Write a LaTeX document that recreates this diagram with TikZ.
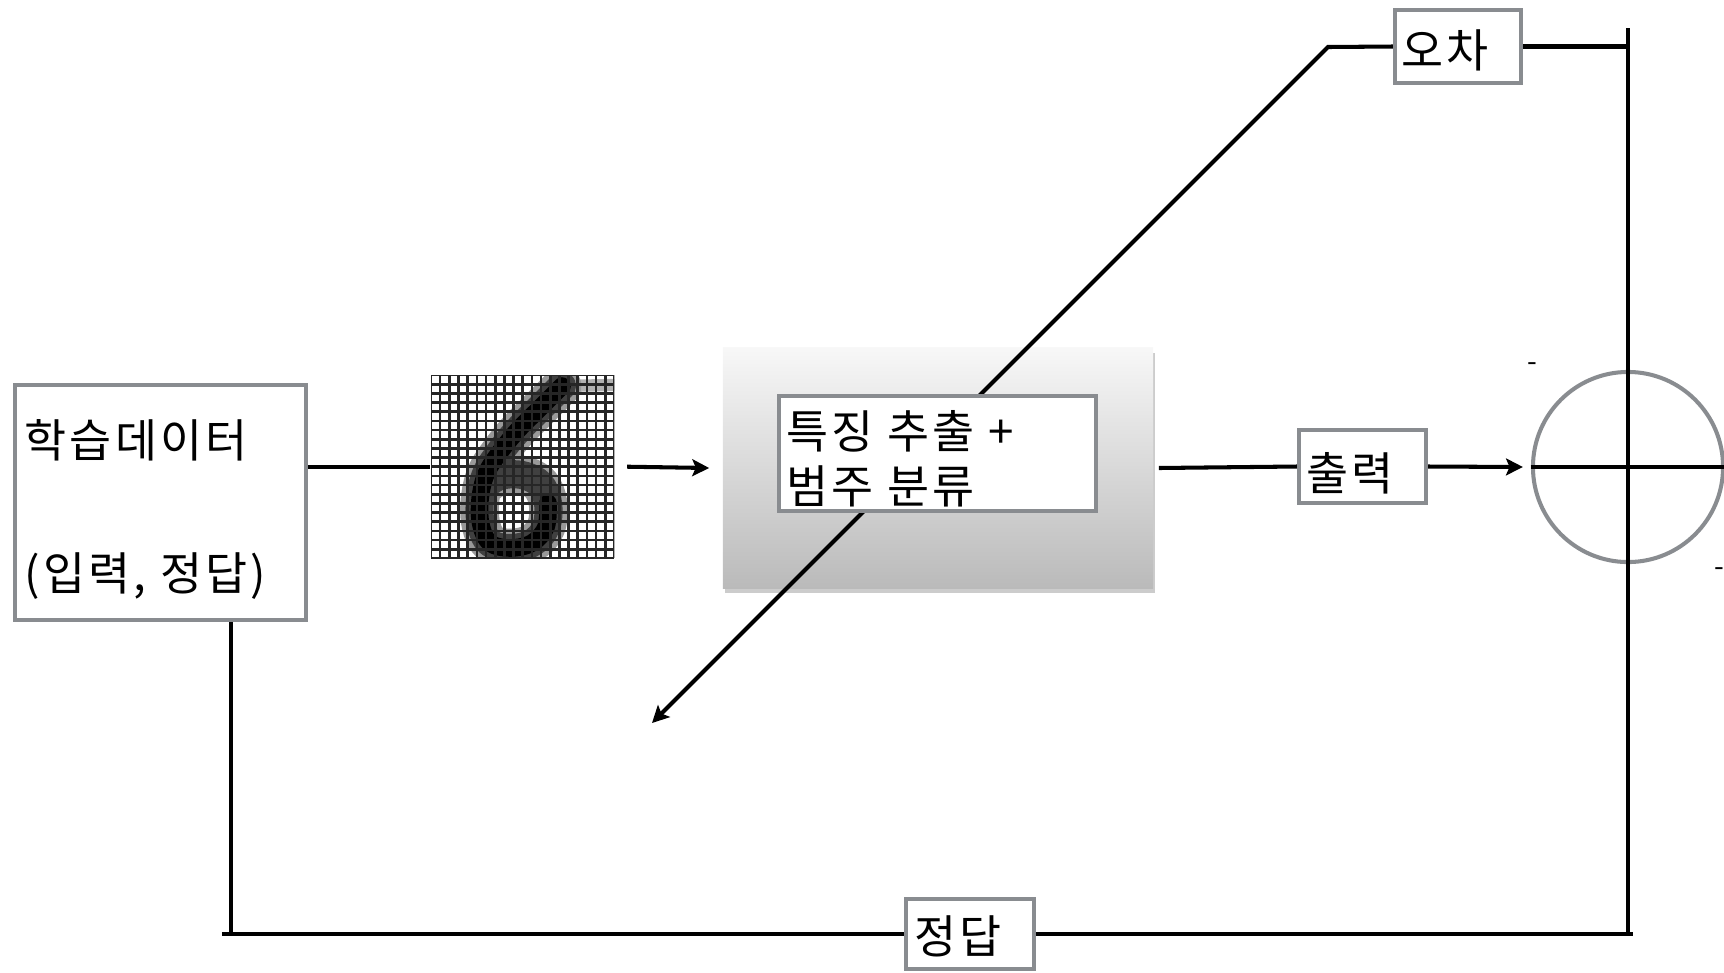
\documentclass[tikz,border=0pt]{standalone}
\usepackage{fontspec}
\newfontfamily\kr[LetterSpace=7]{Noto Sans CJK KR}
\usetikzlibrary{arrows.meta,shadows}
\definecolor{boxgray}{HTML}{898C90}

\begin{document}
\begin{tikzpicture}[x=0.01cm,y=-0.01cm,
  wire/.style={line width=1.15pt, black},
  tip/.style={-{Stealth[length=4.8pt,width=4.8pt,inset=1pt]}},
  frame/.style={draw=boxgray, line width=1.15pt, fill=white, inner sep=0pt},
  lbl/.style={font=\kr\fontsize{13pt}{15.6pt}\selectfont, anchor=base west, inner sep=0pt},
  sign/.style={font=\kr\fontsize{8pt}{8pt}\selectfont, inner sep=0pt},
  gridline/.style={line width=0.75pt, black!85}]
\useasboundingbox (0,0) rectangle (1724,972);

% training data box
\node[frame, minimum width=2.91cm, minimum height=2.35cm] (data) at (160.5,502.5) {};
\node[lbl] (datat) at (24,457) {학습데이터};
\node[lbl] (datas) at (24,590) {(입력, 정답)};

% digit image: pixel grid with a handwritten 6
\node[inner sep=0pt, minimum width=1.834cm, minimum height=1.834cm] (img) at (522.7,466.7) {};
\begin{scope}
  \clip (431,375) rectangle (614.4,558.4);
  \fill[white] (431,375) rectangle (614.4,558.4);
  \draw[black!30, line width=3.5pt, line cap=round] (560,386) -- (612,385);
  \draw[black!40, line width=11pt, line cap=round, line join=round]
    plot[smooth, tension=0.6] coordinates {(562,386) (540,408) (518,430) (500,452) (486,474) (480,500) (481,525) (490,543) (510,548) (532,543) (546,527) (548,503) (540,484) (522,475) (500,476) (484,486)};
  \draw[black!75, line width=8pt, line cap=round, line join=round]
    plot[smooth, tension=0.6] coordinates {(562,386) (540,408) (518,430) (500,452) (486,474) (480,500) (481,525) (490,543) (510,548) (532,543) (546,527) (548,503) (540,484) (522,475) (500,476) (484,486)};
  \draw[black, line width=5pt, line cap=round, line join=round]
    plot[smooth, tension=0.6] coordinates {(562,386) (540,408) (518,430) (500,452) (486,474) (480,500) (481,525) (490,543) (510,548) (532,543) (546,527) (548,503)};
  \foreach \i in {0,...,20} {
    \draw[gridline] ({431+\i*9.17},375) -- ({431+\i*9.17},558.4);
    \draw[gridline] (431,{375+\i*9.17}) -- (614.4,{375+\i*9.17});
  }
\end{scope}

% feature extraction + classification block
\node[minimum width=4.3cm, minimum height=2.4cm, inner sep=0pt,
      top color=black!3, bottom color=black!27,
      drop shadow={opacity=0.4, shadow xshift=0.02cm, shadow yshift=-0.05cm}] (feat) at (938,468) {};

% error feedback line crossing the block
\coordinate (bend) at (1328,47);
\coordinate (fb) at (652,723);

% error box
\node[frame, minimum width=1.26cm, minimum height=0.73cm] (err) at (1458,46.5) {};
\node[lbl] (errt) at (1401,67) {오차};
\draw[wire, tip] (err.west) -- (bend) -- (fb);

% inner label box
\node[frame, minimum width=3.17cm, minimum height=1.15cm] (inner) at (937.5,453.5) {};
\node[lbl] (innera) at (786,448) {특징 추출 +};
\node[lbl] (innerb) at (786,503) {범주 분류};

% output box
\node[frame, minimum width=1.27cm, minimum height=0.73cm] (out) at (1362.5,466.5) {};
\node[lbl] (outt) at (1306,490) {출력};

% answer box
\node[frame, minimum width=1.28cm, minimum height=0.70cm] (ans) at (970,934) {};
\node[lbl] (anst) at (914,953) {정답};

% summing junction
\node[circle, draw=boxgray, line width=1.15pt, minimum size=1.9cm, inner sep=0pt] (sum) at (1628,467) {};
\node[sign] (minus) at (1532,367) {-};
\node[sign] (plus) at (1719,572) {-};

\coordinate (rtop) at (1628,28);
\coordinate (rbot) at (1628,934);
\coordinate (lb) at (231,934);
\coordinate (rout) at (1745,467);

% forward path
\draw[wire] (img.west -| data.east) -- (img.west);
\draw[wire, tip] ([xshift=0.12cm]img.east) -- ([xshift=-0.13cm]feat.west);
\draw[wire] ([xshift=0.05cm]feat.east) -- (out.west);
\draw[wire, tip] (out.east) -- ([xshift=-0.08cm]sum.west);
\draw[wire] (sum.west) -- (rout);

% error and answer paths
\draw[wire] (err.east) -- (err.east -| rtop);
\draw[wire] (rtop) -- ([yshift=-0.02cm]rbot);
\draw[wire] (data.south -| lb) -- (lb);
\draw[wire] ([xshift=-0.09cm]lb) -- (ans.west);
\draw[wire] (ans.east) -- ([xshift=0.05cm]rbot);
\end{tikzpicture}
\end{document}
